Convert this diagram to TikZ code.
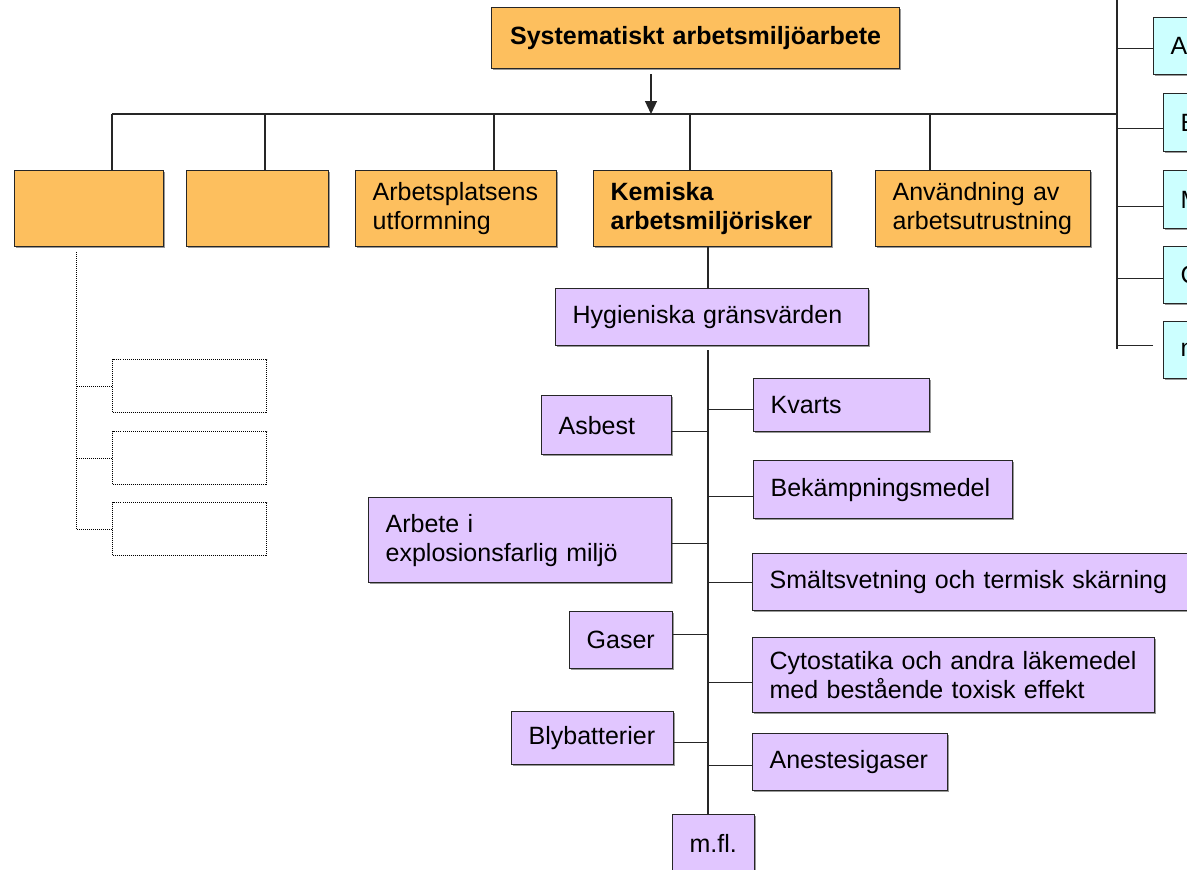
\documentclass[tikz,border=0pt]{standalone}
\usepackage{fontspec}
\setmainfont{Liberation Sans}
\usetikzlibrary{arrows.meta,shadows}
\definecolor{boxorange}{RGB}{253,191,94}
\definecolor{boxlilac}{RGB}{225,198,255}
\definecolor{boxcyan}{RGB}{204,255,255}

\begin{document}
\begin{tikzpicture}[x=1pt,y=-1pt,
    every node/.style={font=\fontsize{25}{29}\selectfont},
    box/.style={draw=black!85,line width=1.3pt,anchor=north west,inner xsep=17pt,inner ysep=0pt,align=left,
      drop shadow={shadow xshift=1.5pt,shadow yshift=-1.5pt,fill=black!40,opacity=1}},
    orangebox/.style={box,fill=boxorange},
    lilacbox/.style={box,fill=boxlilac},
    cyanbox/.style={box,fill=boxcyan},
    dotbox/.style={draw,densely dotted,line width=1pt,anchor=north west,fill=white,minimum width=154pt,minimum height=53pt},
    strongtext/.style={font=\fontsize{25}{29}\selectfont\bfseries},
    link/.style={line width=1.2pt,draw=black!85},
    dotline/.style={densely dotted,line width=1pt}]
    \useasboundingbox (0,0) rectangle (1187,870);
    \fill[white] (0,0) rectangle (1187,870);
    \clip (0,0) rectangle (1187,870);

    \node[orangebox,strongtext,align=center,text width=374pt,minimum height=61pt] (sys) at (491,7) {Systematiskt arbetsmiljöarbete};

    \node[orangebox,text width=115pt,minimum height=76pt] (o1) at (14,170) {};
    \node[orangebox,text width=108pt,minimum height=76pt] (o2) at (186,170) {};
    \node[orangebox,text width=167pt,minimum height=76pt] (arb) at (355,170) {Arbetsplatsens\\utformning};
    \node[orangebox,strongtext,text width=204pt,minimum height=76pt] (kem) at (593,170) {Kemiska\\arbetsmiljörisker};
    \node[orangebox,text width=181pt,minimum height=76pt] (anv) at (875,170) {Användning av\\arbetsutrustning};

    \node[cyanbox,text width=66pt,minimum height=57pt] (ca) at (1153,17) {A};
    \node[cyanbox,text width=66pt,minimum height=58pt] (cb) at (1163,93) {B};
    \node[cyanbox,text width=66pt,minimum height=58pt] (cm) at (1163,170) {M};
    \node[cyanbox,text width=66pt,minimum height=57pt] (cc) at (1163,246) {C};
    \node[cyanbox,text width=66pt,minimum height=57pt] (cn) at (1163,321) {n};

    \node[dotbox] (db1) at (112,359) {};
    \node[dotbox] (db2) at (112,431) {};
    \node[dotbox] (db3) at (112,502) {};

    \node[lilacbox,text width=279pt,minimum height=57pt] (hyg) at (555,288) {Hygieniska gränsvärden};
    \node[lilacbox,text width=96pt,minimum height=59pt] (asb) at (541,395) {Asbest};
    \node[lilacbox,text width=269pt,minimum height=85pt] (exp) at (368,497) {Arbete i\\explosionsfarlig miljö};
    \node[lilacbox,text width=69pt,minimum height=57pt] (gas) at (569,611) {Gaser};
    \node[lilacbox,text width=128pt,minimum height=53pt] (bly) at (511,711) {Blybatterier};
    \node[lilacbox,text width=142pt,minimum height=53pt] (kva) at (753,378) {Kvarts};
    \node[lilacbox,text width=225pt,minimum height=58pt] (bek) at (753,460) {Bekämpningsmedel};
    \node[lilacbox,text width=411pt,minimum height=57pt] (sma) at (752,553) {Smältsvetning och termisk skärning};
    \node[lilacbox,text width=368pt,minimum height=75pt] (cyt) at (752,637) {Cytostatika och andra läkemedel\\med bestående toxisk effekt};
    \node[lilacbox,text width=161pt,minimum height=57pt] (ane) at (752,733) {Anestesigaser};
    \node[lilacbox,text width=48pt,minimum height=58pt] (mfl) at (672,814) {m.fl.};

    \coordinate (busL) at (112,114);
    \coordinate (rtop) at (1117,0);
    \coordinate (rbot) at (1117,349);
    \coordinate (jarr) at (651,114);
    \coordinate (trunk) at (708,350);
    \coordinate (dtop) at (76,252);

    \draw[link] (busL) -- (busL -| rtop);
    \draw[link] (rtop) -- (rbot);
    \draw[link,-{Triangle[length=13pt,width=12pt]}] (jarr |- sys.south) ++(0,5) -- (jarr);
    \foreach \b/\x in {o1/112,o2/265,arb/494,kem/690,anv/930}{
        \coordinate (j\b) at (\x,114);
        \draw[link] (j\b) -- (j\b |- \b.north);
    }
    \foreach \n/\dy in {ca/-2,cb/-6,cm/-7,cc/-3}
        \draw[link] ([yshift=\dy pt]\n.west) -- ([yshift=\dy pt]\n.west -| rtop);
    \draw[link] ([xshift=-10pt,yshift=5pt]cn.west) -- ([yshift=5pt]cn.west -| rtop);

    \draw[link] (trunk |- kem.south) -- (trunk |- hyg.north);
    \draw[link] (trunk) -- (trunk |- mfl.north);
    \foreach \n/\dy in {asb/-6,exp/-3,gas/6,bly/-4}
        \draw[link] ([yshift=\dy pt]\n.east) -- ([yshift=\dy pt]\n.east -| trunk);
    \foreach \n/\dy in {kva/-4,bek/-7,sma/0,cyt/-7,ane/-3}
        \draw[link] ([yshift=\dy pt]\n.west) -- ([yshift=\dy pt]\n.west -| trunk);

    \draw[dotline] (dtop) -- (dtop |- db3.west);
    \foreach \n in {db1,db2,db3}
        \draw[dotline] (\n.west) -- (\n.west -| dtop);
\end{tikzpicture}
\end{document}
